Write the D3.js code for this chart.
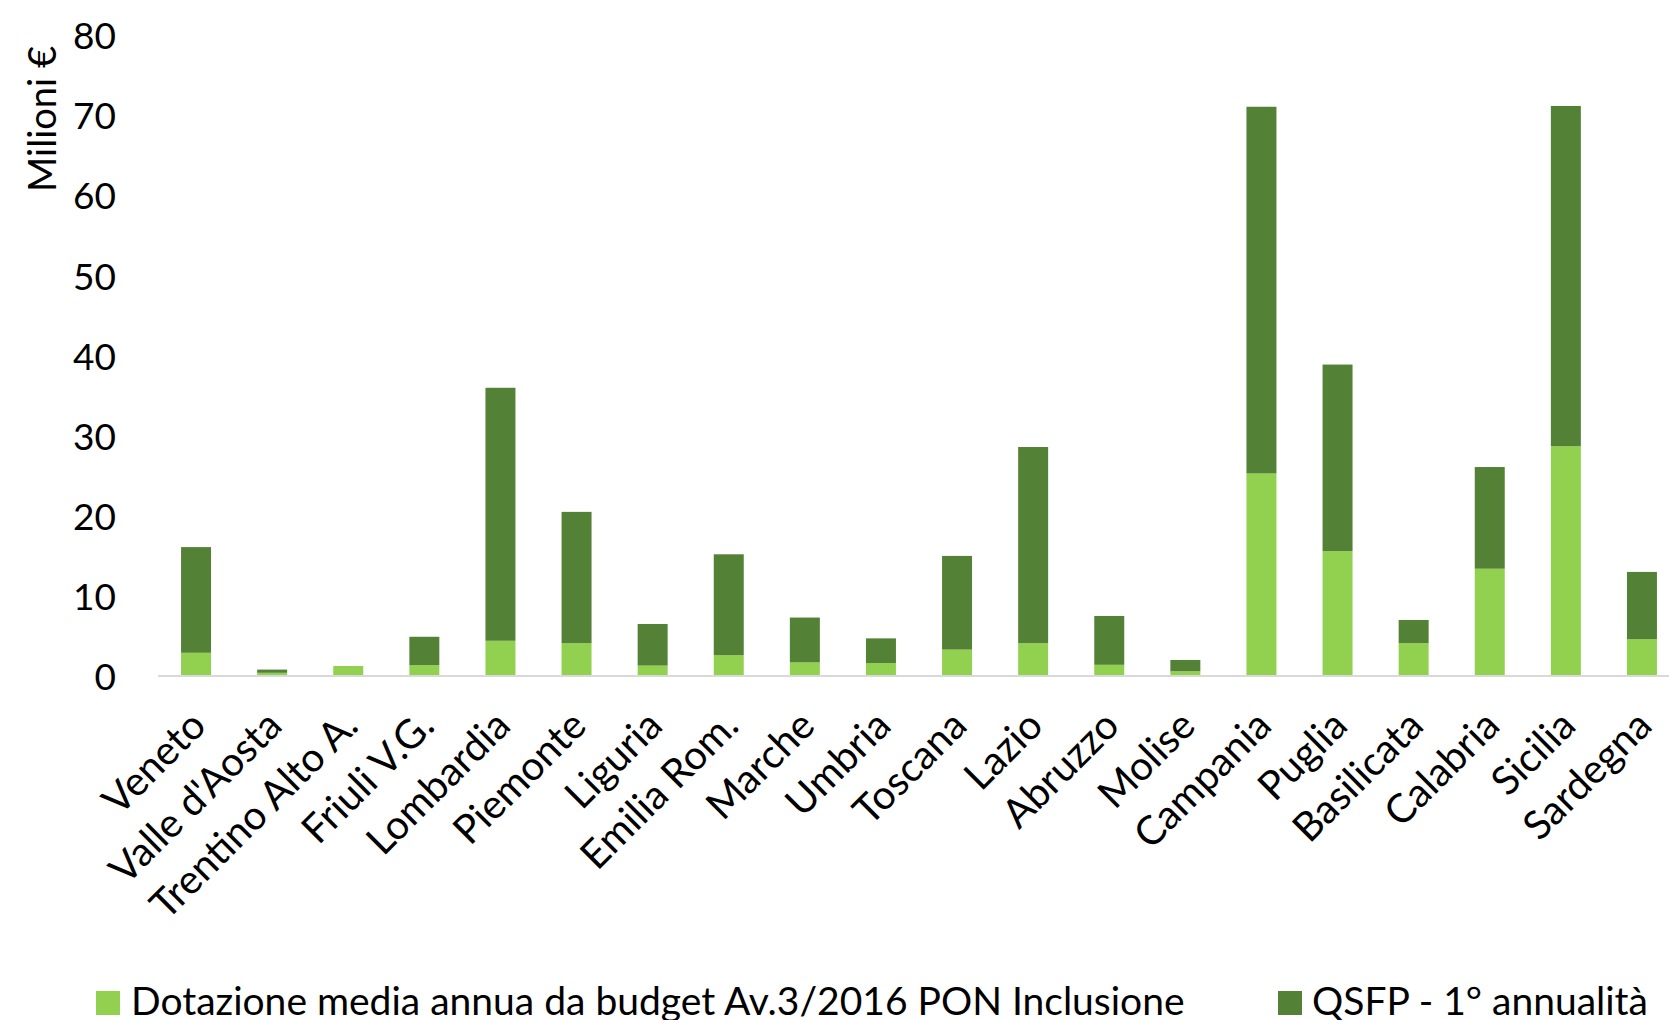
<!DOCTYPE html>
<html>
<head>
  <meta charset="utf-8">
  <title>Dotazione per regione</title>
  <script src="https://d3js.org/d3.v7.min.js"></script>
  <style>
    body { margin: 0; background: #fff; font-family: Lato, "Open Sans", sans-serif; }
    svg { display: block; }
    .tick-label { font-size: 37px; fill: #000; }
    .cat-label { font-size: 40px; fill: #000; }
    .legend-text { font-size: 39px; fill: #000; }
    .axis-title { font-size: 38px; fill: #000; }
  </style>
</head>
<body>
  <div id="chart"></div>
  <script>
    // data (milioni di euro)
    const regions = ["Veneto", "Valle d'Aosta", "Trentino Alto A.", "Friuli V.G.", "Lombardia",
      "Piemonte", "Liguria", "Emilia Rom.", "Marche", "Umbria", "Toscana", "Lazio", "Abruzzo",
      "Molise", "Campania", "Puglia", "Basilicata", "Calabria", "Sicilia", "Sardegna"];
    // first series: Dotazione media annua da budget Av.3/2016 PON Inclusione
    const dotazione = [2.9, 0.4, 1.25, 1.35, 4.4, 4.1, 1.3, 2.6, 1.7, 1.6, 3.3, 4.1, 1.4,
      0.6, 25.3, 15.6, 4.1, 13.4, 28.7, 4.6];
    // totals (top of each stacked bar); QSFP part = total - dotazione
    const totals = [16.1, 0.8, 1.25, 4.9, 36.0, 20.5, 6.5, 15.2, 7.3, 4.7, 15.0, 28.6, 7.5,
      2.0, 71.1, 38.9, 7.0, 26.1, 71.2, 13.0];
    const qsfp = totals.map((t, i) => +(t - dotazione[i]).toFixed(2));
    const yTicks = [0, 10, 20, 30, 40, 50, 60, 70, 80];
    const seriesNames = ["Dotazione media annua da budget Av.3/2016 PON Inclusione", "QSFP - 1° annualità"];
    const colors = ["#92d050", "#538135"];

    const W = 1669, H = 1020;
    const plot = {left: 158, right: 1680, top: 35.5, bottom: 676};

    const svg = d3.select("#chart").append("svg")
      .attr("width", W)
      .attr("height", H);

    const x = d3.scaleBand()
      .domain(regions)
      .range([plot.left, plot.right])
      .paddingInner(0.606)
      .paddingOuter(0.303);

    const y = d3.scaleLinear()
      .domain([0, 80])
      .range([plot.bottom, plot.top]);

    // stacked data
    const rows = regions.map((r, i) => ({region: r, dot: dotazione[i], qsfp: qsfp[i]}));
    const stack = d3.stack().keys(["dot", "qsfp"])(rows);

    svg.append("g")
      .selectAll("g")
      .data(stack)
      .join("g")
      .attr("fill", (d, i) => colors[i])
      .selectAll("rect")
      .data(d => d)
      .join("rect")
      .attr("x", d => x(d.data.region))
      .attr("width", x.bandwidth())
      .attr("y", d => y(d[1]))
      .attr("height", d => Math.max(0, y(d[0]) - y(d[1])));

    // baseline
    svg.append("line")
      .attr("x1", plot.left).attr("x2", plot.right)
      .attr("y1", y(0)).attr("y2", y(0))
      .attr("stroke", "#d9d9d9")
      .attr("stroke-width", 2);

    // y axis labels
    const yAxis = d3.axisLeft(y).tickValues(yTicks).tickSize(0).tickPadding(0);
    const gy = svg.append("g")
      .attr("transform", "translate(116,0)")
      .call(yAxis)
      .attr("font-family", null)
      .attr("font-size", null);
    gy.select(".domain").remove();
    gy.selectAll("text")
      .attr("class", "tick-label")
      .attr("dy", "0.36em");

    // category labels, rotated
    svg.append("g")
      .selectAll("text")
      .data(regions)
      .join("text")
      .attr("class", "cat-label")
      .attr("text-anchor", "end")
      .attr("transform", d => `translate(${x(d) + x.bandwidth() / 2 + 12},${y(0) + 52}) rotate(-45)`)
      .text(d => d);

    // y axis title
    svg.append("text")
      .attr("class", "axis-title")
      .attr("text-anchor", "middle")
      .attr("transform", "translate(56,119) rotate(-90)")
      .text("Milioni €");

    // legend
    const legendPos = [{sx: 96, tx: 131}, {sx: 1278, tx: 1312}];
    const lg = svg.append("g").selectAll("g")
      .data(seriesNames)
      .join("g");
    lg.append("rect")
      .attr("x", (d, i) => legendPos[i].sx)
      .attr("y", 991)
      .attr("width", 24)
      .attr("height", 24)
      .attr("fill", (d, i) => colors[i]);
    lg.append("text")
      .attr("class", "legend-text")
      .attr("x", (d, i) => legendPos[i].tx)
      .attr("y", 1015)
      .text(d => d);
  </script>
</body>
</html>
